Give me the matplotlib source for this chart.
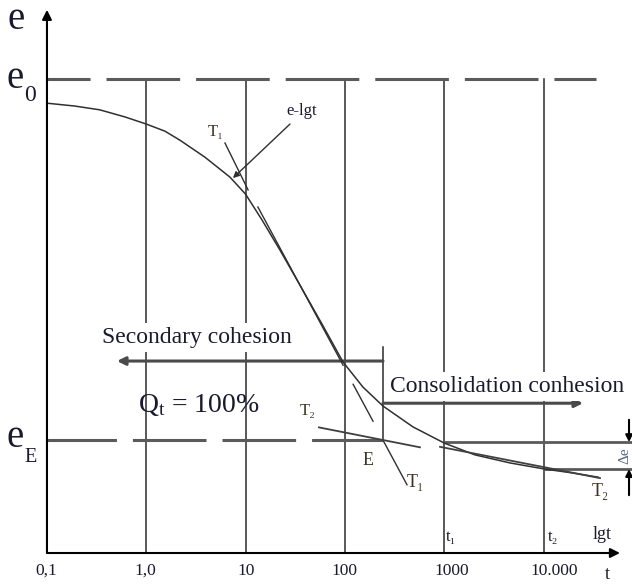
import matplotlib.pyplot as plt

plt.rcParams['font.family'] = ['Liberation Serif', 'DejaVu Serif']
plt.rcParams['mathtext.fontset'] = 'custom'
plt.rcParams['mathtext.rm'] = 'Liberation Serif'
plt.rcParams['mathtext.default'] = 'rm'
plt.rcParams['lines.scale_dashes'] = False

# e - lg t curve
curve_t = [0.1, 0.19, 0.34, 0.61, 1.0, 1.54, 2.18, 3.9, 6.96, 10, 14.6, 22.2, 35.3,
           58.8, 95.7, 152, 242, 485, 1000, 2040, 4600, 10350, 19400, 35400]
curve_e = [0.949, 0.943, 0.935, 0.920, 0.905, 0.890, 0.871, 0.835, 0.793, 0.757, 0.703,
           0.639, 0.565, 0.483, 0.403, 0.350, 0.310, 0.266, 0.232, 0.207, 0.190, 0.177,
           0.169, 0.160]

decades = [0.1, 1, 10, 100, 1000, 10000]
decade_labels = ['0,1', '1,0', '10', '100', '1000', '10.000']

e0 = 1.0
eE = 0.238
tE = 242
t1, t2 = 1000, 10000
e_t1, e_t2 = 0.234, 0.177

# tangent T1 through the inflection point (drawn in pieces), tangents T2
T1_pieces = [([13.3, 96], [0.730, 0.396]),
             ([121, 192], [0.356, 0.278]),
             ([242, 422], [0.238, 0.144])]
T1_mark = ([6.2, 10.6], [0.865, 0.766])
T2_first = ([54.8, 570], [0.265, 0.223])
T2_second = ([908, 37060], [0.224, 0.158])

DARK = '#2b2b2b'
GREY = '#5a5a5a'
TXT = '#1a1a2e'
TLAB = '#3d3320'

fig = plt.figure(figsize=(6.32, 5.84), dpi=100)
ax = fig.add_axes([0, 0, 1, 1])
ax.set_xscale('log')
ax.set_xlim(10 ** -1.473, 10 ** 4.891)
ax.set_ylim(-0.0654, 1.1667)
ax.axis('off')

# axes with arrows
ax.annotate('', xy=(0.1, 1.146), xytext=(0.1, 0), zorder=5,
            arrowprops=dict(arrowstyle='-|>', color='black', lw=1.5, mutation_scale=14,
                            shrinkA=0, shrinkB=0))
ax.annotate('', xy=(58900, 0), xytext=(0.1, 0), zorder=5,
            arrowprops=dict(arrowstyle='-|>', color='black', lw=1.5, mutation_scale=14,
                            shrinkA=0, shrinkB=0))

# vertical decade lines
for t in decades[1:]:
    ax.plot([t, t], [0, e0], color=DARK, lw=1.1, zorder=1)

# e0 and eE dashed lines
ax.plot([0.1, 33800], [e0, e0], color=GREY, lw=2.2, linestyle=(22, (53, 11.5)), zorder=1)
ax.plot([0.1, tE], [eE, eE], color=GREY, lw=2.2, linestyle=(3, (53, 11.5)), zorder=1)

# curve
ax.plot(curve_t, curve_e, color='#303030', lw=1.1, zorder=3)

# tangents
for tt, ee in T1_pieces:
    ax.plot(tt, ee, color='#303030', lw=1.0, zorder=3)
ax.plot(*T1_mark, color='#303030', lw=1.0, zorder=3)
ax.plot(*T2_first, color='#404040', lw=1.3, zorder=3)
ax.plot(*T2_second, color='#404040', lw=1.3, zorder=3)

# E vertical and arrows
ax.plot([tE, tE], [0.435, eE], color=DARK, lw=1.1, zorder=2)
ax.annotate('', xy=(0.507, 0.405), xytext=(tE, 0.405), zorder=2,
            arrowprops=dict(arrowstyle='-|>', color='#4a4a4a', lw=2.2, mutation_scale=12,
                            shrinkA=0, shrinkB=0))
ax.annotate('', xy=(25000, 0.316), xytext=(tE, 0.316), zorder=2,
            arrowprops=dict(arrowstyle='-|>', color='#4a4a4a', lw=2.2, mutation_scale=12,
                            shrinkA=0, shrinkB=0))

# delta e
ax.plot([t1, 10 ** 4.891], [e_t1, e_t1], color=GREY, lw=2.0, zorder=2)
ax.plot([t2, 10 ** 4.891], [e_t2, e_t2], color=GREY, lw=2.0, zorder=2)
ax.annotate('', xy=(72600, e_t1), xytext=(72600, 0.281),
            arrowprops=dict(arrowstyle='-|>', color='black', lw=1.5, mutation_scale=10,
                            shrinkA=0, shrinkB=0))
ax.annotate('', xy=(72600, e_t2), xytext=(72600, 0.122),
            arrowprops=dict(arrowstyle='-|>', color='black', lw=1.5, mutation_scale=10,
                            shrinkA=0, shrinkB=0))
ax.text(66200, 0.205, 'Δe', rotation=90, fontsize=11, color='#5a6a80',
        ha='center', va='center')

# e-lgt pointer
ax.annotate('', xy=(7.46, 0.791), xytext=(28, 0.905), zorder=4,
            arrowprops=dict(arrowstyle='-|>', color='#303030', lw=1.0, mutation_scale=9,
                            shrinkA=0, shrinkB=0))
ax.text(37, 0.932, 'e-lgt', fontsize=12, color=TXT, ha='center', va='center')

# y labels (base letter and a lowered subscript)
ax.text(0.0405, 1.105, 'e', fontsize=28, color=TXT, ha='left', va='baseline')
ax.text(0.0391, 0.981, 'e', fontsize=28, color=TXT, ha='left', va='baseline')
ax.text(0.0590, 0.954, '0', fontsize=17, color=TXT, ha='left', va='baseline')
ax.text(0.0391, 0.2236, 'e', fontsize=28, color=TXT, ha='left', va='baseline')
ax.text(0.0590, 0.192, 'E', fontsize=14.5, color=TXT, ha='left', va='baseline')

# tangent labels
ax.text(5.04, 0.888, 'T₁', fontsize=12, color=TLAB, ha='center', va='center')
ax.text(42.5, 0.300, 'T₂', fontsize=12, color=TLAB, ha='center', va='center')
ax.text(171, 0.196, 'E', fontsize=13, color=TLAB, ha='center', va='center')
ax.text(508, 0.148, 'T₁', fontsize=13, color=TLAB, ha='center', va='center')
ax.text(37060, 0.129, 'T₂', fontsize=13, color=TLAB, ha='center', va='center')

# zone texts
ax.text(3.24, 0.443, 'Secondary cohesion', fontsize=17, color=TXT, ha='center',
        va='baseline', zorder=4,
        bbox=dict(facecolor='white', edgecolor='none', pad=3))
ax.text(3.40, 0.297, 'Q$_{\\mathrm{t}}$ = 100%', fontsize=20, color=TXT, ha='center',
        va='baseline', zorder=4)
ax.text(4290, 0.340, 'Consolidation conhesion', fontsize=17, color=TXT, ha='center',
        va='baseline', zorder=4,
        bbox=dict(facecolor='white', edgecolor='none', pad=3))

# x labels
label_dx = [0.98, 0.98, 1.02, 1.0, 1.2, 1.28]
for t, lab, k in zip(decades, decade_labels, label_dx):
    ax.text(t * k, -0.038, lab, fontsize=12.5, color=TXT, ha='center', va='center')
ax.text(43500, -0.046, 't', fontsize=13, color=TXT, ha='center', va='center')
ax.text(38800, 0.038, 'lgt', fontsize=13, color=TXT, ha='center', va='center')
ax.text(t1 * 1.17, 0.034, 't₁', fontsize=12, color=TXT, ha='center', va='center')
ax.text(t2 * 1.25, 0.034, 't₂', fontsize=12, color=TXT, ha='center', va='center')

fig.savefig('out.png', dpi=100)
